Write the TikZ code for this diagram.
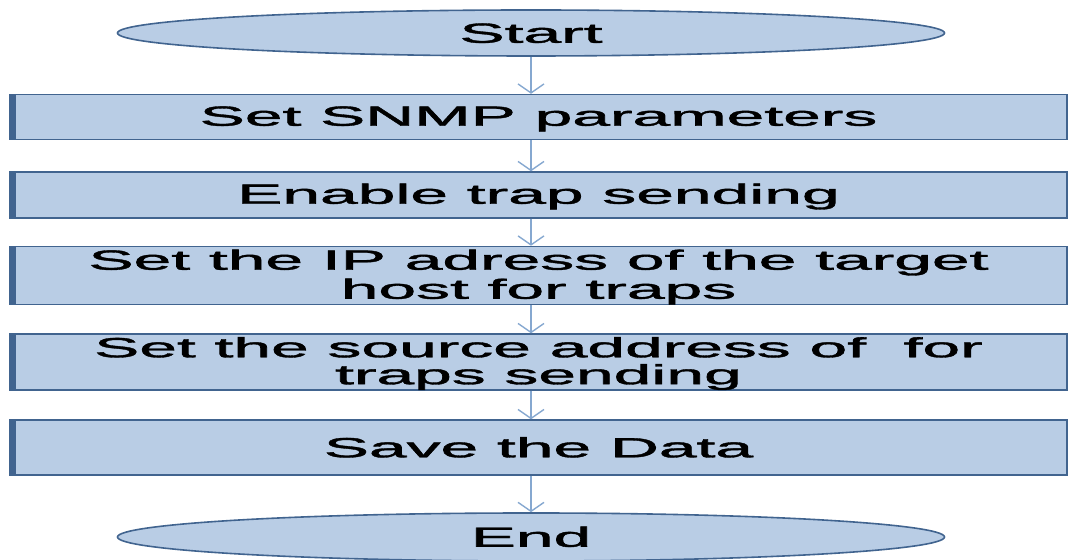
\documentclass[tikz,border=0pt]{standalone}
\usepackage{fontspec}
\usepackage{array}
\setmainfont{Liberation Sans}[FakeBold=1.2]
\usetikzlibrary{arrows.meta,positioning,shapes.geometric}

\definecolor{boxfill}{HTML}{B9CDE5}
\definecolor{boxedge}{HTML}{41648F}
\definecolor{flowline}{HTML}{86A8D0}

% squeezed box text, caps centred on the node
\setlength{\extrarowheight}{36pt}
\newcommand{\squash}[1]{\scalebox{1}[0.41]{\fontsize{68}{30}\selectfont\begin{tabular}{@{}c@{}}#1\end{tabular}}}

\begin{document}
\begin{tikzpicture}[x=1bp,y=1bp,
    terminal/.style={ellipse,draw=boxedge,fill=boxfill,line width=1.6bp,
                     minimum width=827bp,minimum height=46bp,inner sep=0pt},
    stepbox/.style={rectangle,draw=boxedge,fill=boxfill,line width=1.4bp,
                    minimum width=1057bp,inner sep=0pt,
                    path picture={\fill[boxedge] (path picture bounding box.south west)
                        rectangle ([xshift=6bp]path picture bounding box.north west);}},
    flow/.style={draw=flowline,line width=1.4bp,-{Straight Barb[length=9bp,width=26bp]}}]

\useasboundingbox (0,0) rectangle (1068,560);

% Start and End
\node[terminal] (start) at (531,527) {\squash{Start}};

% Steps
\node[stepbox,minimum height=45bp] (snmp)   at (538.5,443) {\squash{Set SNMP parameters}};
\node[stepbox,minimum height=46bp] (trap)   at (538.5,365) {\squash{Enable trap sending}};
\node[stepbox,minimum height=55bp] (target) at (538.5,284.5) {\squash{Set the IP adress of the target\\host for traps}};
\node[stepbox,minimum height=56bp] (source) at (538.5,198) {\squash{Set the source address of \ for\\traps sending}};
\node[stepbox,minimum height=55bp] (save)   at (538.5,112.5) {\squash{Save the Data}};

\node[terminal,minimum height=48bp] (end) at (531,23) {\squash{End}};

% Arrows
\draw[flow] (start.south) -- (snmp.north -| start.south);
\draw[flow] (snmp.south -| start.south) -- (trap.north -| start.south);
\draw[flow] (trap.south -| start.south) -- (target.north -| start.south);
\draw[flow] (target.south -| start.south) -- (source.north -| start.south);
\draw[flow] (source.south -| start.south) -- (save.north -| start.south);
\draw[flow] (save.south -| start.south) -- (end.north);

\end{tikzpicture}
\end{document}
